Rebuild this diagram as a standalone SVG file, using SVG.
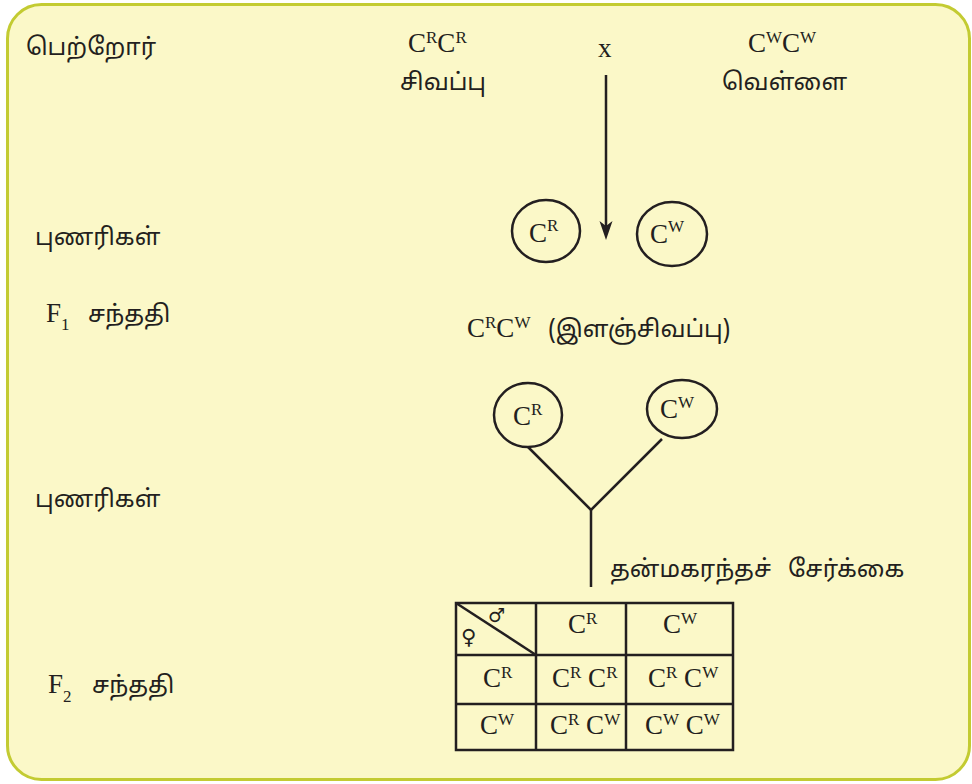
<svg xmlns="http://www.w3.org/2000/svg" width="972" height="784" viewBox="0 0 972 784">
<style>
.t{font-family:"Noto Sans Tamil","Noto Sans","Lohit Tamil",sans-serif;font-size:24px;fill:#231f20}
.s{font-family:"Liberation Serif","Times New Roman",serif;font-size:27px;fill:#231f20}
.sup{font-size:17px}
.ln{stroke:#231f20;stroke-width:2.5;fill:none}
.cell{stroke:#231f20;stroke-width:2.5;fill:none}
</style>
<rect x="7.5" y="4.5" width="962" height="775" rx="34" fill="#fbf8c8" stroke="#c3cb32" stroke-width="3"/>

<g id="labels">
<text class="t" x="26" y="55">பெற்றோர்</text>
<text class="t" x="35" y="245">புணரிகள்</text>
<text class="s" x="46" y="322" font-size="28">F<tspan class="sup" dy="8">1</tspan></text>
<text class="t" x="88" y="322">சந்ததி</text>
<text class="t" x="35" y="507">புணரிகள்</text>
<text class="s" x="48" y="693" font-size="28">F<tspan class="sup" dy="9">2</tspan></text>
<text class="t" x="92" y="693">சந்ததி</text>
</g>

<g id="parent-red">
<text class="s" x="408" y="52">C<tspan class="sup" dy="-9">R</tspan><tspan dy="9">C</tspan><tspan class="sup" dy="-9">R</tspan></text>
<text class="t" x="400" y="90">சிவப்பு</text>
</g>
<g id="cross"><text class="s" x="598" y="57">x</text></g>
<g id="parent-white">
<text class="s" x="748" y="52">C<tspan class="sup" dy="-9">W</tspan><tspan dy="9">C</tspan><tspan class="sup" dy="-9">W</tspan></text>
<text class="t" x="722" y="90">வெள்ளை</text>
</g>

<g id="gamete1-R">
<ellipse cx="546" cy="231" rx="34" ry="31" class="ln"/>
<text class="s" x="529" y="242" font-size="30">C<tspan class="sup" font-size="19" dy="-11">R</tspan></text>
</g>
<g id="gamete1-W">
<ellipse cx="672" cy="234" rx="35" ry="32" class="ln"/>
<text class="s" x="650" y="243" font-size="30">C<tspan class="sup" font-size="19" dy="-11">W</tspan></text>
</g>

<g id="f1">
<text class="s" x="467" y="337">C<tspan class="sup" dy="-9">R</tspan><tspan dy="9">C</tspan><tspan class="sup" dy="-9">W</tspan></text>
<text class="t" x="548" y="337">(இளஞ்சிவப்பு)</text>
</g>

<g id="gamete2-R">
<ellipse cx="528" cy="415" rx="34" ry="32" class="ln"/>
<text class="s" x="513" y="425" font-size="28">C<tspan class="sup" font-size="18" dy="-10">R</tspan></text>
</g>
<g id="gamete2-W">
<ellipse cx="682" cy="409" rx="35" ry="29" class="ln"/>
<text class="s" x="660" y="418" font-size="28">C<tspan class="sup" font-size="18" dy="-10">W</tspan></text>
</g>

<g id="connectors">
<line x1="606" y1="75" x2="606" y2="226" class="ln"/>
<polygon points="606,240 599.5,221 606,226 612.5,221" fill="#231f20"/>
<polyline points="528,447 591,510 662,439" class="ln"/>
<line x1="591" y1="510" x2="591" y2="587" class="ln"/>
</g>

<g id="selfing">
<text class="t" x="610" y="577">தன்மகரந்தச்</text>
<text class="t" x="788" y="577">சேர்க்கை</text>
</g>

<g id="punnett">
<rect x="456" y="603" width="277" height="147" class="cell"/>
<line x1="536" y1="603" x2="536" y2="750" class="cell"/>
<line x1="626" y1="603" x2="626" y2="750" class="cell"/>
<line x1="456" y1="655" x2="733" y2="655" class="cell"/>
<line x1="456" y1="704" x2="733" y2="704" class="cell"/>
<line x1="456" y1="603" x2="536" y2="655" class="cell"/>
<text x="488" y="622" font-family="DejaVu Sans,sans-serif" font-size="19" fill="#231f20">♂</text>
<text x="461" y="644" font-family="DejaVu Sans,sans-serif" font-size="21" fill="#231f20">♀</text>
<text class="s" x="568" y="633" font-size="26">C<tspan class="sup" font-size="16" dy="-9">R</tspan></text>
<text class="s" x="663" y="633" font-size="26">C<tspan class="sup" font-size="16" dy="-9">W</tspan></text>
<text class="s" x="483" y="687" font-size="26">C<tspan class="sup" font-size="16" dy="-9">R</tspan></text>
<text class="s" x="552" y="687" font-size="26">C<tspan class="sup" font-size="16" dy="-9">R</tspan><tspan dy="9"> C</tspan><tspan class="sup" font-size="16" dy="-9">R</tspan></text>
<text class="s" x="648" y="687" font-size="26">C<tspan class="sup" font-size="16" dy="-9">R</tspan><tspan dy="9"> C</tspan><tspan class="sup" font-size="16" dy="-9">W</tspan></text>
<text class="s" x="480" y="734" font-size="26">C<tspan class="sup" font-size="16" dy="-9">W</tspan></text>
<text class="s" x="550" y="734" font-size="26">C<tspan class="sup" font-size="16" dy="-9">R</tspan><tspan dy="9"> C</tspan><tspan class="sup" font-size="16" dy="-9">W</tspan></text>
<text class="s" x="645" y="734" font-size="26">C<tspan class="sup" font-size="16" dy="-9">W</tspan><tspan dy="9"> C</tspan><tspan class="sup" font-size="16" dy="-9">W</tspan></text>
</g>
</svg>
